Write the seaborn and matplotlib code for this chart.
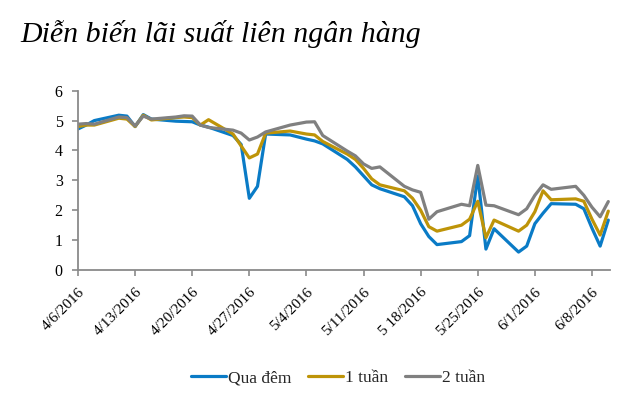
import matplotlib
matplotlib.use("Agg")
import matplotlib.pyplot as plt
from matplotlib.lines import Line2D
import pandas as pd
import seaborn as sns

# ---- data ----
dates = ["2016-04-06", "2016-04-07", "2016-04-08", "2016-04-11", "2016-04-12",
         "2016-04-13", "2016-04-14", "2016-04-15", "2016-04-18", "2016-04-19",
         "2016-04-20", "2016-04-21", "2016-04-22", "2016-04-25", "2016-04-26",
         "2016-04-27", "2016-04-28", "2016-04-29", "2016-05-02", "2016-05-03",
         "2016-05-04", "2016-05-05", "2016-05-06", "2016-05-09", "2016-05-10",
         "2016-05-11", "2016-05-12", "2016-05-13", "2016-05-16", "2016-05-17",
         "2016-05-18", "2016-05-19", "2016-05-20", "2016-05-23", "2016-05-24",
         "2016-05-25", "2016-05-26", "2016-05-27", "2016-05-30", "2016-05-31",
         "2016-06-01", "2016-06-02", "2016-06-03", "2016-06-06", "2016-06-07",
         "2016-06-08", "2016-06-09", "2016-06-10"]

qua_dem = [4.72, 4.85, 5.00, 5.18, 5.15, 4.80, 5.20, 5.05, 4.98, 4.97,
           4.96, 4.85, 4.78, 4.50, 4.20, 2.40, 2.80, 4.55, 4.52, 4.45,
           4.38, 4.32, 4.22, 3.70, 3.45, 3.15, 2.85, 2.72, 2.45, 2.15,
           1.55, 1.12, 0.85, 0.95, 1.15, 3.15, 0.70, 1.38, 0.60, 0.80,
           1.55, 1.90, 2.22, 2.20, 2.05, 1.40, 0.80, 1.67]

mot_tuan = [4.80, 4.85, 4.85, 5.08, 5.05, 4.80, 5.18, 5.02, 5.10, 5.12,
            5.10, 4.85, 5.03, 4.55, 4.15, 3.75, 3.88, 4.58, 4.65, 4.60,
            4.55, 4.52, 4.30, 3.88, 3.70, 3.40, 3.05, 2.85, 2.65, 2.40,
            2.00, 1.45, 1.30, 1.50, 1.70, 2.30, 1.08, 1.67, 1.30, 1.50,
            1.95, 2.65, 2.35, 2.38, 2.30, 1.70, 1.17, 1.97]

hai_tuan = [4.88, 4.90, 4.88, 5.12, 5.10, 4.82, 5.15, 5.05, 5.12, 5.16,
            5.15, 4.85, 4.77, 4.68, 4.58, 4.35, 4.45, 4.62, 4.85, 4.90,
            4.95, 4.96, 4.50, 3.98, 3.82, 3.55, 3.40, 3.45, 2.80, 2.68,
            2.60, 1.70, 1.95, 2.20, 2.15, 3.50, 2.17, 2.15, 1.85, 2.05,
            2.50, 2.85, 2.70, 2.80, 2.50, 2.10, 1.78, 2.29]

series_names = ["Qua đêm", "1 tuần", "2 tuần"]
tick_dates = ["2016-04-06", "2016-04-13", "2016-04-20", "2016-04-27", "2016-05-04",
              "2016-05-11", "2016-05-18", "2016-05-25", "2016-06-01", "2016-06-08"]
tick_labels = ["4/6/2016", "4/13/2016", "4/20/2016", "4/27/2016", "5/4/2016",
               "5/11/2016", "5 18/2016", "5/25/2016", "6/1/2016", "6/8/2016"]
y_ticks = [0, 1, 2, 3, 4, 5, 6]
title = "Diễn biến lãi suất liên ngân hàng"

df = pd.DataFrame({
    "date": pd.to_datetime(dates * 3),
    "value": qua_dem + mot_tuan + hai_tuan,
    "series": [series_names[0]] * len(dates) + [series_names[1]] * len(dates)
              + [series_names[2]] * len(dates),
})

# ---- style ----
sns.set_theme(style="white")
plt.rcParams["font.family"] = ["Liberation Serif", "DejaVu Serif"]

W, H = 642, 397
fig = plt.figure(figsize=(W / 100, H / 100), dpi=100)
ax = fig.add_axes([78 / W, 1 - 270 / H, (610 - 78) / W, (270 - 90.7) / H])

palette = {"Qua đêm": "#0A7BC6", "1 tuần": "#BE9408", "2 tuần": "#808080"}
sns.lineplot(data=df, x="date", y="value", hue="series", hue_order=series_names,
             palette=palette, linewidth=2.3, ax=ax, legend=False,
             solid_joinstyle="round", solid_capstyle="round")

ax.set_xlim(pd.Timestamp("2016-04-06"), pd.Timestamp("2016-06-10 05:00"))
ax.set_ylim(0, 6)
ax.set_yticks(y_ticks)
ax.set_yticklabels([str(v) for v in y_ticks], fontsize=11.5)
ax.set_xticks(pd.to_datetime(tick_dates))
ax.set_xticklabels(tick_labels, fontsize=11, rotation=45, ha="right",
                   va="top", rotation_mode="anchor")
ax.set_xlabel("")
ax.set_ylabel("")

spine_c = "#8A8A8A"
for s in ["top", "right"]:
    ax.spines[s].set_visible(False)
for s in ["left", "bottom"]:
    ax.spines[s].set_color(spine_c)
    ax.spines[s].set_linewidth(1.3)
ax.tick_params(axis="both", which="both", colors=spine_c, length=4, width=1.2,
               labelcolor="black", direction="out")
ax.tick_params(axis="y", pad=7, left=True)
ax.tick_params(axis="x", pad=7, bottom=True)
ax.grid(False)

fig.text(20 / W, 1 - 34 / H, title, fontsize=21.5, style="italic",
         ha="left", va="center", color="black")

handles = [Line2D([0], [0], color=palette[n], lw=2.3) for n in series_names]
fig.legend(handles, series_names, loc="center", ncol=3, frameon=False,
           bbox_to_anchor=(338 / W, 1 - 378 / H), fontsize=12.5,
           handlelength=2.0, handletextpad=0.1, columnspacing=1.0)

fig.savefig("out.png", dpi=100, facecolor="white")
